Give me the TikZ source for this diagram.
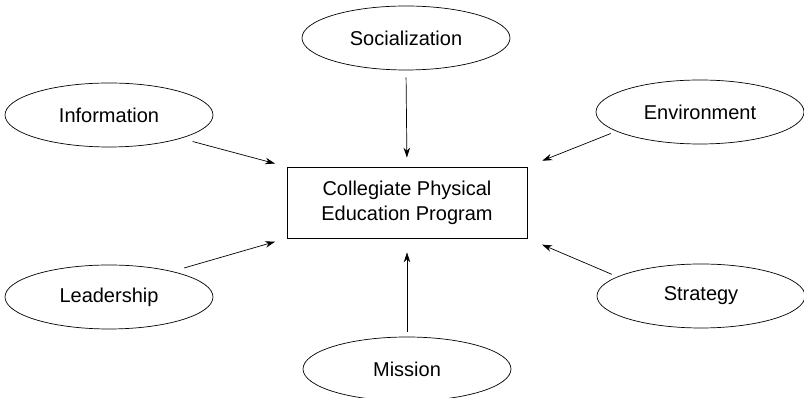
\documentclass[tikz,border=0pt]{standalone}
\usepackage{fontspec}
\setmainfont{Liberation Sans}
\usetikzlibrary{shapes}
\usetikzlibrary{arrows.meta}

\begin{document}
\begin{tikzpicture}[x=1pt,y=1pt]
				\tikzstyle{factor}=[ellipse,draw,line width=0.7pt,minimum width=208pt,minimum height=64pt,inner sep=0pt,font=\fontsize{20}{25}\selectfont]
				\tikzstyle{program}=[rectangle,draw,line width=0.7pt,minimum width=240pt,minimum height=71pt,align=center,font=\fontsize{20}{25}\selectfont]
				\tikzstyle{link}=[line width=0.7pt,-{Stealth[length=10pt,width=6.5pt]}]
				\useasboundingbox (0,0) rectangle (804,398);
				\node[program] (prog) at (407,195.5) {Collegiate Physical\\Education Program};
				\node[factor] (soc) at (406,360) {Socialization};
				\node[factor] (info) at (109,283) {Information};
				\node[factor] (env) at (700,286) {Environment};
				\node[factor] (lead) at (109,101) {Leadership};
				\node[factor] (strat) at (701,102) {Strategy};
				\node[factor] (mission) at (407,29) {Mission};
				\draw[link,shorten <=7pt,shorten >=9pt] (soc.south) -- (prog.north);
				\draw[link,shorten <=5pt,shorten >=14pt] (mission.north) -- (prog.south);
				\draw[link,shorten <=12pt,shorten >=12pt] (info.-18) -- (prog.north west);
				\draw[link,shorten <=12pt,shorten >=12pt] (lead.22) -- (prog.south west);
				\draw[link,shorten <=6pt,shorten >=16pt] (env.193) -- (prog.north east);
				\draw[link,shorten <=6pt,shorten >=16pt] (strat.167) -- (prog.south east);
\end{tikzpicture}
\end{document}
